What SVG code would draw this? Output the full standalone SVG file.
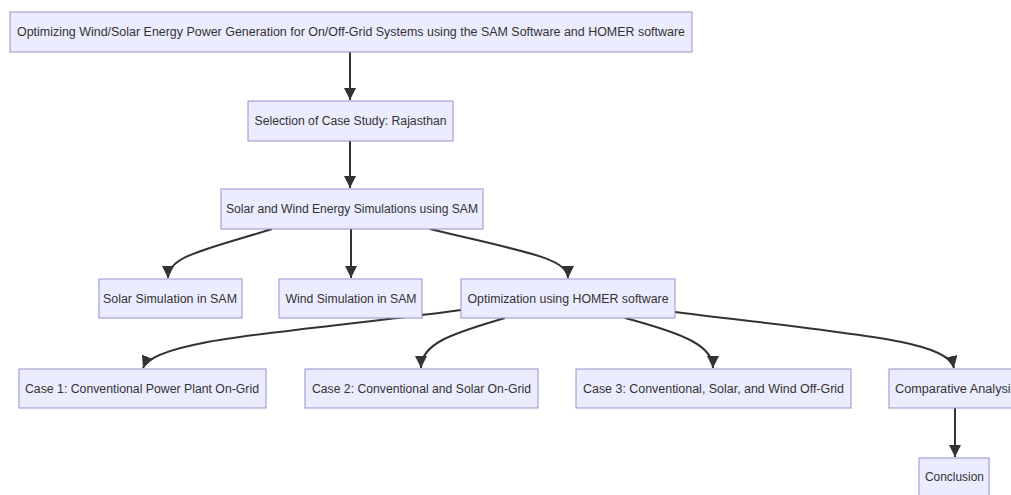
<svg xmlns="http://www.w3.org/2000/svg" width="1011" height="495" viewBox="0 0 1011 495">
<style>
.n rect{fill:#ECECFF;stroke:#9A8FD0;stroke-width:1}
.n text{font-family:"Liberation Sans",Arial,sans-serif;font-size:12px;fill:#333;text-anchor:middle;dominant-baseline:central}
.e path{fill:none;stroke:#333;stroke-width:2}
</style>
<defs>
<marker id="ah" markerUnits="userSpaceOnUse" markerWidth="12" markerHeight="12" refX="10" refY="5" orient="auto" viewBox="0 0 10 10">
<path d="M0,0 L10,5 L0,10 z" fill="#333"/>
</marker>
</defs>
<rect width="1011" height="495" fill="#fff"/>
<g id="connectors" class="e">
<path d="M350,52 L350,100" marker-end="url(#ah)"/>
<path d="M350,141 L350,188" marker-end="url(#ah)"/>
<path d="M272,229 C205,250 168,256 168,278" marker-end="url(#ah)"/>
<path d="M351,229 L351,278" marker-end="url(#ah)"/>
<path d="M430,229 C525,252 568,258 568,278" marker-end="url(#ah)"/>
<path d="M461,310 C300,332 155,338 143,368" marker-end="url(#ah)"/>
<path d="M505,318 C450,334 421,344 421,368" marker-end="url(#ah)"/>
<path d="M625,318 C685,334 713,346 713,368" marker-end="url(#ah)"/>
<path d="M675,312 C850,334 948,340 954,368" marker-end="url(#ah)"/>
<path d="M955,408 L955,457" marker-end="url(#ah)"/>
</g>
<g id="n1" class="n"><rect x="10" y="12" width="682" height="40"/><text x="351" y="32" textLength="668" lengthAdjust="spacingAndGlyphs">Optimizing Wind/Solar Energy Power Generation for On/Off-Grid Systems using the SAM Software and HOMER software</text></g>
<g id="n2" class="n"><rect x="248" y="101" width="205" height="40"/><text x="350.5" y="121" textLength="192" lengthAdjust="spacingAndGlyphs">Selection of Case Study: Rajasthan</text></g>
<g id="n3" class="n"><rect x="221" y="189" width="262" height="40"/><text x="352" y="209" textLength="252" lengthAdjust="spacingAndGlyphs">Solar and Wind Energy Simulations using SAM</text></g>
<g id="n4" class="n"><rect x="99" y="279" width="143" height="39"/><text x="170" y="298.5" textLength="134" lengthAdjust="spacingAndGlyphs">Solar Simulation in SAM</text></g>
<g id="n5" class="n"><rect x="279" y="279" width="143" height="39"/><text x="351" y="298.5" textLength="131" lengthAdjust="spacingAndGlyphs">Wind Simulation in SAM</text></g>
<g id="n6" class="n"><rect x="461" y="279" width="214" height="39"/><text x="568" y="298.5" textLength="201" lengthAdjust="spacingAndGlyphs">Optimization using HOMER software</text></g>
<g id="n7" class="n"><rect x="19" y="369" width="247" height="39"/><text x="142" y="388.5" textLength="234" lengthAdjust="spacingAndGlyphs">Case 1: Conventional Power Plant On-Grid</text></g>
<g id="n8" class="n"><rect x="305" y="369" width="233" height="39"/><text x="421.5" y="388.5" textLength="219" lengthAdjust="spacingAndGlyphs">Case 2: Conventional and Solar On-Grid</text></g>
<g id="n9" class="n"><rect x="576" y="369" width="275" height="39"/><text x="713.5" y="388.5" textLength="261" lengthAdjust="spacingAndGlyphs">Case 3: Conventional, Solar, and Wind Off-Grid</text></g>
<g id="n10" class="n"><rect x="889" y="369" width="134" height="39"/><text x="956" y="388.5" textLength="122" lengthAdjust="spacingAndGlyphs">Comparative Analysis</text></g>
<g id="n11" class="n"><rect x="919" y="458" width="70" height="38"/><text x="954.5" y="476.5" textLength="59" lengthAdjust="spacingAndGlyphs">Conclusion</text></g>
</svg>
